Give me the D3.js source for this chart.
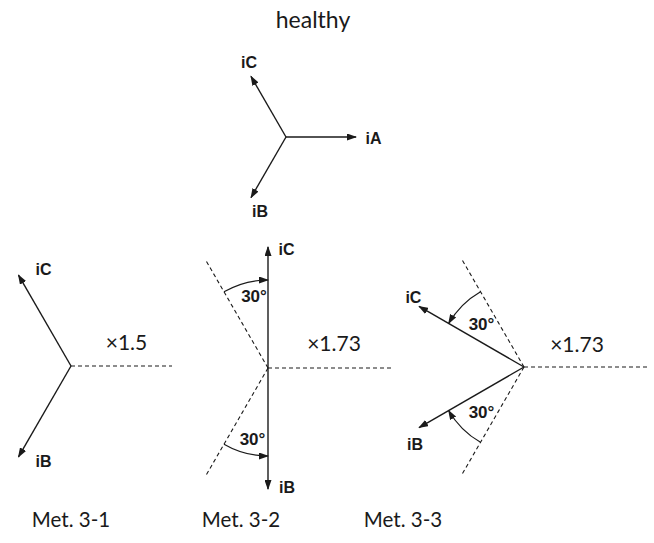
<!DOCTYPE html>
<html><head><meta charset="utf-8">
<script src="https://cdn.jsdelivr.net/npm/d3@7"></script>
<style>body{margin:0;background:#fff}svg{display:block}</style>
</head><body>
<svg id="c" width="654" height="543"></svg>
<script>
// ---- data ----
const panelNames = ["healthy", "Met. 3-1", "Met. 3-2", "Met. 3-3"];
const phasorNames = ["iA", "iB", "iC"];
// phasor angles (deg, counter-clockwise from +x), null = not drawn
const anglesHealthy = [0, 240, 120];
const angles31 = [null, 240, 120];
const angles32 = [null, 270, 90];
const angles33 = [null, 210, 150];
// magnitudes (p.u.)
const magnitudes = [1, 1.5, 1.73, 1.73];
const scaleLabels = ["", "×1.5", "×1.73", "×1.73"];
// dashed reference directions (deg)
const refs31 = [0];
const refs32 = [0, 120, 240];
const refs33 = [0, 120, 240];
// angle-shift arcs: [from, to, label]
const arcs32 = [[120, 90, "30°"], [240, 270, "30°"]];
const arcs33 = [[120, 150, "30°"], [240, 210, "30°"]];

// ---- layout ----
const layout = [
  {cx: 286, cy: 137, title: [313, 28], titleSize: 23,
   lab: {iA: [17.5, 7], iB: [9, 19.5], iC: [-2, -8]}},
  {cx: 71, cy: 366, title: [71, 527], titleSize: 20.5, scaleAt: [55.5, -16], refLen: 101,
   lab: {iB: [25, 10], iC: [25, 0]}},
  {cx: 268, cy: 368, title: [241, 527], titleSize: 20.5, scaleAt: [66, -17], refLen: 124,
   lab: {iB: [19, 4], iC: [18.5, 8]}, arcR: 88, arcLab: [[-14, -66], [-15.5, 77]]},
  {cx: 524, cy: 367, title: [403, 527], titleSize: 20.5, scaleAt: [53, -15], refLen: 123,
   lab: {iB: [-4, 22.5], iC: [-5.7, -3.5]}, arcR: 87, arcLab: [[-42.5, -37], [-42.5, 51]]}
];
const panelAngles = [anglesHealthy, angles31, angles32, angles33];
const panelRefs = [[], refs31, refs32, refs33];
const panelArcs = [[], [], arcs32, arcs33];

const r = d3.scaleLinear().domain([0, 1]).range([0, 70]);
const toRad = d3.scaleLinear().domain([0, 180]).range([0, Math.PI]);
const ink = "#1a1a1a";

const svg = d3.select("#c");
const defs = svg.append("defs");
defs.append("marker").attr("id", "ah").attr("viewBox", "0 0 10 7")
  .attr("refX", 9).attr("refY", 3.5).attr("markerWidth", 10).attr("markerHeight", 7)
  .attr("markerUnits", "userSpaceOnUse").attr("orient", "auto")
  .append("path").attr("d", "M0,0L10,3.5L0,7Z").attr("fill", ink);

function pt(cx, cy, ang, len) {
  const a = toRad(ang);
  return [cx + len * Math.cos(a), cy - len * Math.sin(a)];
}

panelNames.forEach((name, i) => {
  const L = layout[i];
  const g = svg.append("g");
  const len = r(magnitudes[i]);
  // reference dashed lines
  g.selectAll("line.ref").data(panelRefs[i]).join("line").attr("class", "ref")
    .attr("x1", L.cx).attr("y1", L.cy)
    .attr("x2", d => pt(L.cx, L.cy, d, L.refLen)[0])
    .attr("y2", d => pt(L.cx, L.cy, d, L.refLen)[1])
    .attr("stroke", ink).attr("stroke-width", 1.1).attr("stroke-dasharray", "4,3");
  // phasors
  const ph = phasorNames.map((n, k) => ({n, a: panelAngles[i][k]})).filter(d => d.a !== null);
  g.selectAll("line.ph").data(ph).join("line").attr("class", "ph")
    .attr("x1", L.cx).attr("y1", L.cy)
    .attr("x2", d => pt(L.cx, L.cy, d.a, len)[0])
    .attr("y2", d => pt(L.cx, L.cy, d.a, len)[1])
    .attr("stroke", ink).attr("stroke-width", 1.4).attr("marker-end", "url(#ah)");
  g.selectAll("text.ph").data(ph).join("text").attr("class", "ph")
    .attr("x", d => pt(L.cx, L.cy, d.a, len)[0] + L.lab[d.n][0])
    .attr("y", d => pt(L.cx, L.cy, d.a, len)[1] + L.lab[d.n][1])
    .attr("text-anchor", "middle")
    .attr("font-family", "Liberation Sans, Arial, sans-serif").attr("font-weight", "bold")
    .attr("font-size", 16).attr("fill", ink).text(d => d.n);
  // arcs
  panelArcs[i].forEach((a, k) => {
    const p0 = pt(L.cx, L.cy, a[0], L.arcR), p1 = pt(L.cx, L.cy, a[1], L.arcR);
    const sweep = a[1] > a[0] ? 0 : 1;
    g.append("path")
      .attr("d", `M${p0[0]},${p0[1]}A${L.arcR},${L.arcR} 0 0 ${sweep} ${p1[0]},${p1[1]}`)
      .attr("fill", "none").attr("stroke", ink).attr("stroke-width", 1.2)
      .attr("marker-end", "url(#ah)");
    g.append("text").attr("x", L.cx + L.arcLab[k][0]).attr("y", L.cy + L.arcLab[k][1])
      .attr("text-anchor", "middle")
      .attr("font-family", "Liberation Sans, Arial, sans-serif").attr("font-weight", "bold")
      .attr("font-size", 17).attr("fill", ink).text(a[2]);
  });
  if (scaleLabels[i]) {
    g.append("text").attr("x", L.cx + L.scaleAt[0]).attr("y", L.cy + L.scaleAt[1])
      .attr("text-anchor", "middle")
      .attr("font-family", "Lato, sans-serif").attr("font-size", 21).attr("fill", ink)
      .text(scaleLabels[i]);
  }
  svg.append("text").attr("x", L.title[0]).attr("y", L.title[1])
    .attr("text-anchor", "middle")
    .attr("font-family", "Lato, sans-serif").attr("font-size", L.titleSize).attr("fill", ink)
    .text(name);
});
</script>
</body></html>
